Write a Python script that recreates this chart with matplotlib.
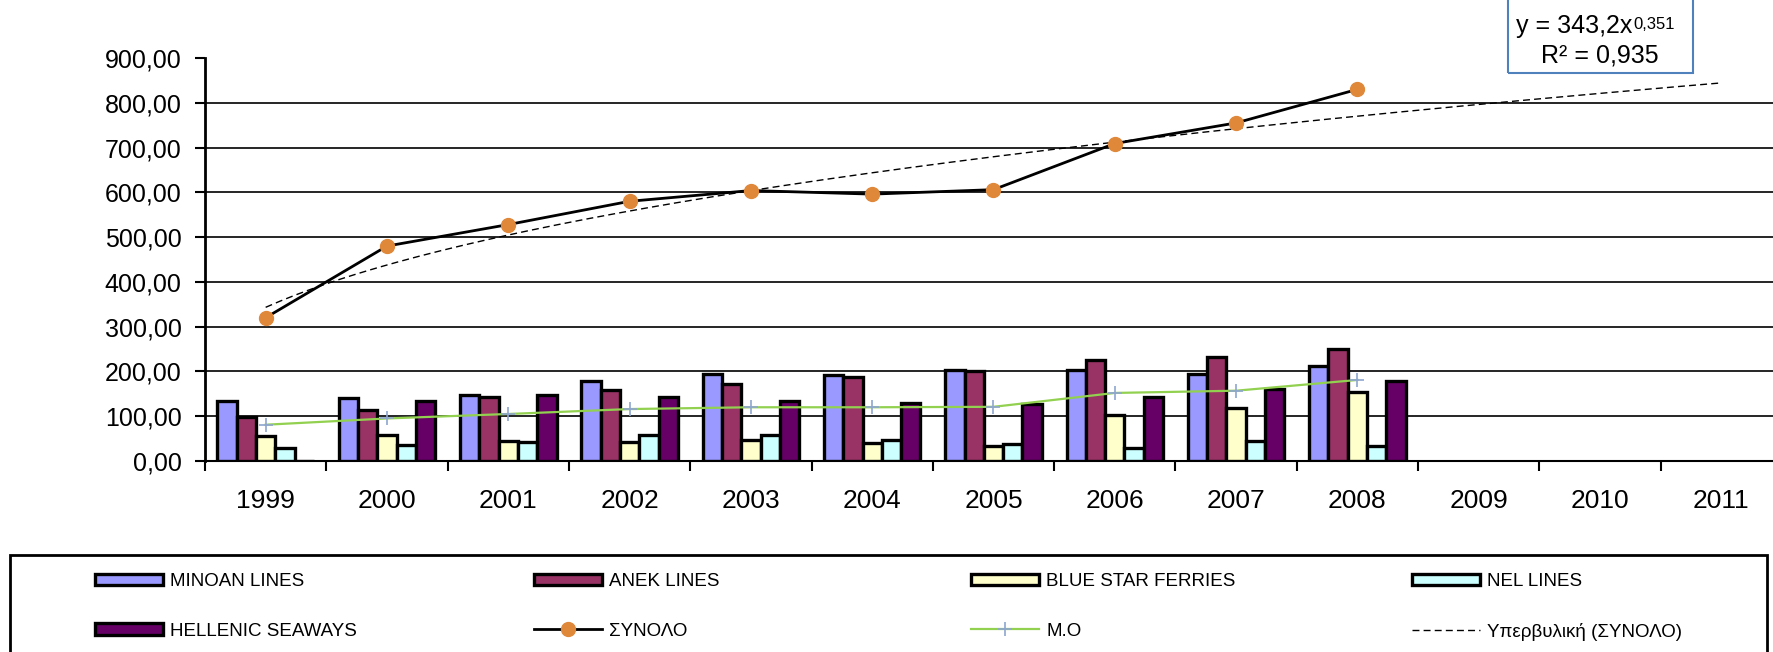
import numpy as np
import matplotlib
matplotlib.use('Agg')
import matplotlib.pyplot as plt
from matplotlib.patches import Rectangle

plt.rcParams['font.family'] = ['Liberation Sans', 'DejaVu Sans']

# Data
years = ['1999', '2000', '2001', '2002', '2003', '2004', '2005', '2006', '2007', '2008', '2009', '2010', '2011']
minoan = [135, 140, 148, 179, 194, 191, 204, 204, 194, 213]
anek = [98, 113, 143, 158, 173, 188, 201, 225, 233, 251]
blue_star = [55, 58, 45, 42, 48, 40, 33, 103, 118, 153]
nel = [30, 36, 42, 57, 57, 48, 39, 28, 45, 33]
hellenic = [0, 135, 148, 143, 135, 129, 127, 143, 161, 179]
total = [320, 480, 528, 580, 604, 596, 606, 709, 755, 830]
mean = [81, 95, 105, 116, 120, 120, 121, 152, 157, 181]

# power trendline coefficients shown in the chart
trend_a = 343.2
trend_b = 0.351

series = [
    ('MINOAN LINES', minoan, '#9999FF'),
    ('ANEK LINES', anek, '#993366'),
    ('BLUE STAR FERRIES', blue_star, '#FFFFCC'),
    ('NEL LINES', nel, '#CCFFFF'),
    ('HELLENIC SEAWAYS', hellenic, '#660066'),
]

W, H = 1774, 652
fig = plt.figure(figsize=(W / 100, H / 100), dpi=100)
ax = fig.add_axes([205 / W, (H - 461) / H, 1577 / W, 403 / H])

n = len(total)
x = np.arange(n)
bw = 19.3 / 121.3
bar_handles = []
for i, (name, vals, col) in enumerate(series):
    b = ax.bar(x + (i - 2) * bw, vals, width=bw, color=col, edgecolor='black',
               linewidth=2.4, label=name, zorder=3)
    bar_handles.append(b)

tot_line, = ax.plot(x, total, color='black', lw=2, marker='o', markersize=10,
                    markerfacecolor='#E0883A', markeredgecolor='#E0883A',
                    label='ΣΥΝΟΛΟ', zorder=5)
mean_line, = ax.plot(x, mean, color='#92D050', lw=1.6, marker='+', markersize=10,
                     markeredgecolor='#8EA5D1', markeredgewidth=1.2,
                     label='Μ.Ο', zorder=4)

xt = np.linspace(0, len(years) - 1, 200)
trend_line, = ax.plot(xt, trend_a * (xt + 1) ** trend_b, color='black', lw=1,
                      ls=(0, (5, 3)), label='Υπερβυλική (ΣΥΝΟΛΟ)', zorder=4)

ax.set_xlim(-0.5, len(years) - 0.5)
ax.set_ylim(0, 900)
ax.set_yticks(np.arange(0, 1000, 100))
ax.set_yticklabels([f'{v},00' for v in range(0, 1000, 100)], fontsize=18)
ax.set_xticks(np.arange(len(years)))
ax.set_xticklabels(years, fontsize=19)
ax.set_xticks(np.arange(len(years) + 1) - 0.5, minor=True)
ax.tick_params(axis='x', which='major', length=0, pad=20)
ax.tick_params(axis='x', which='minor', length=7, width=1.5, direction='out')
ax.tick_params(axis='y', length=7, width=1.5, pad=10)
for v in range(100, 900, 100):
    ax.axhline(v, color='black', lw=1.2, zorder=1)
ax.spines['top'].set_visible(False)
ax.spines['right'].set_visible(False)
ax.spines['left'].set_linewidth(2)
ax.spines['bottom'].set_linewidth(1.5)

# equation box
fig.patches.append(Rectangle((1508 / W, (H - 73) / H), 185 / W, 90 / H,
                             transform=fig.transFigure, fill=False,
                             edgecolor='#4F81BD', lw=1.5))
eq = fig.text(1516 / W, (H - 33) / H, 'y = 343,2x', fontsize=18,
              va='baseline', ha='left')
fig.add_artist(plt.Annotation('0,351', xy=(1, 0), xycoords=eq,
                              xytext=(1, 6.5), textcoords='offset points',
                              fontsize=12, va='baseline', ha='left'))
fig.text(1600 / W, (H - 63) / H, 'R² = 0,935', fontsize=18, va='baseline',
         ha='center')

# legend frame
fig.patches.append(Rectangle((10 / W, -10 / H), 1757 / W, (H - 555 + 10) / H,
                             transform=fig.transFigure, fill=False,
                             edgecolor='black', lw=2))

# four legend columns, two rows each
cols = [
    (95, [bar_handles[0], bar_handles[4]]),
    (534, [bar_handles[1], tot_line]),
    (971, [bar_handles[2], mean_line]),
    (1412, [bar_handles[3], trend_line]),
]
for px, hs in cols:
    fig.legend(handles=hs, labels=[h.get_label() for h in hs],
               loc='upper left', bbox_to_anchor=(px / W, (H - 573) / H),
               frameon=False, fontsize=13.5, handlelength=3.65, handleheight=0.55,
               labelspacing=1.74, handletextpad=0.35, borderpad=0, borderaxespad=0)

fig.savefig('out.png', dpi=100)
